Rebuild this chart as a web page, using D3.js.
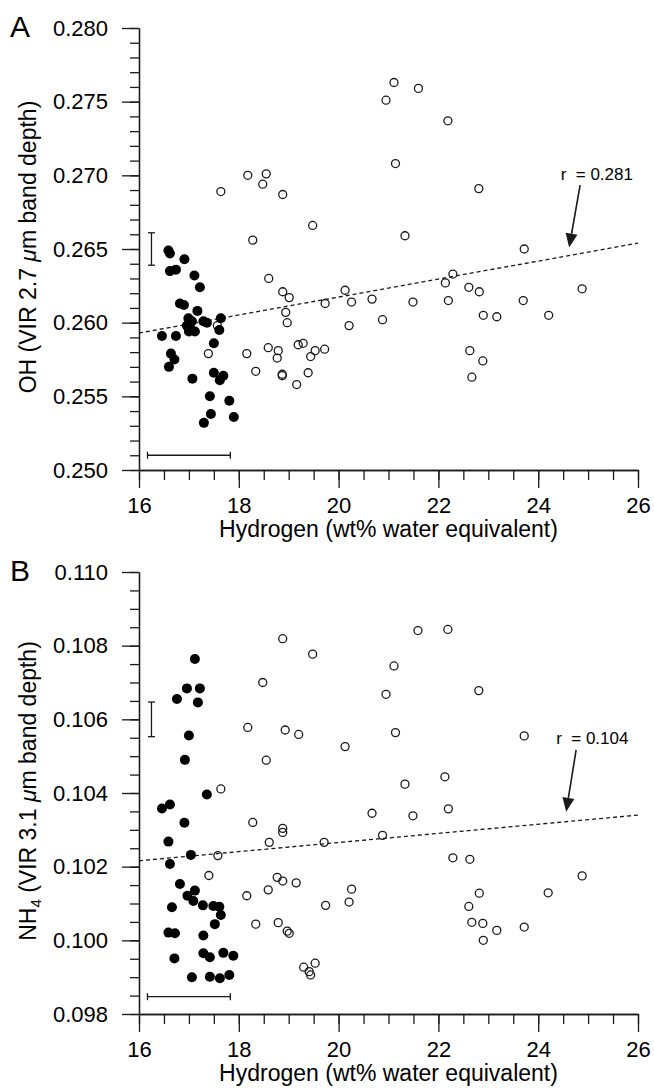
<!DOCTYPE html>
<html>
<head>
<meta charset="utf-8">
<script src="https://cdn.jsdelivr.net/npm/d3@7"></script>
<style>
  body { margin: 0; background: #fff; }
  svg { display: block; font-family: "Liberation Sans", Arial, Helvetica, sans-serif; }
</style>
</head>
<body>
<svg id="chart" width="654" height="1088"></svg>
<script>
// tick labels
const hydrogenTicks = [16, 18, 20, 22, 24, 26];
const ohTicks = [0.250, 0.255, 0.260, 0.265, 0.270, 0.275, 0.280];
const nh4Ticks = [0.098, 0.100, 0.102, 0.104, 0.106, 0.108, 0.110];

// panel A: hydrogen vs OH band depth  [hydrogen, band depth]
const ohFilled = [
  [16.59, 0.2649], [16.62, 0.2647], [16.91, 0.2643], [16.62, 0.2635], [16.74, 0.2636],
  [17.11, 0.2632], [17.22, 0.2624], [16.82, 0.2613], [16.90, 0.2612], [17.17, 0.2608],
  [16.99, 0.2603], [17.06, 0.2601], [16.96, 0.2598], [17.02, 0.2597], [17.00, 0.2594],
  [17.12, 0.2594], [17.29, 0.2601], [17.36, 0.2600], [17.64, 0.2603], [17.61, 0.2595],
  [17.50, 0.2586], [16.46, 0.2591], [16.74, 0.2591], [16.64, 0.2579], [16.71, 0.2575],
  [16.60, 0.2570], [17.07, 0.2562], [17.50, 0.2566], [17.69, 0.2564], [17.62, 0.2561],
  [17.42, 0.2550], [17.81, 0.2547], [17.44, 0.2538], [17.30, 0.2532], [17.90, 0.2536]
];
const ohOpen = [
  [17.64, 0.2689], [18.18, 0.2700], [18.55, 0.2701], [18.48, 0.2694], [18.88, 0.2687],
  [19.48, 0.2666], [18.28, 0.2656], [18.60, 0.2630], [18.88, 0.2621], [19.01, 0.2617],
  [18.94, 0.2607], [18.97, 0.2600], [19.73, 0.2613], [20.13, 0.2622], [20.26, 0.2614],
  [20.67, 0.2616], [20.21, 0.2598], [20.88, 0.2602], [18.16, 0.2579], [18.59, 0.2583],
  [18.79, 0.2581], [18.77, 0.2576], [19.19, 0.2585], [19.29, 0.2586], [19.53, 0.2581],
  [19.72, 0.2582], [19.44, 0.2577], [18.34, 0.2567], [18.87, 0.2565], [18.87, 0.2564],
  [19.39, 0.2566], [19.16, 0.2558], [21.14, 0.2708], [21.33, 0.2659], [21.11, 0.2763],
  [21.60, 0.2759], [20.95, 0.2751], [22.19, 0.2737], [22.81, 0.2691], [23.72, 0.2650],
  [22.29, 0.2633], [22.14, 0.2627], [22.61, 0.2624], [22.82, 0.2621], [24.88, 0.2623],
  [21.49, 0.2614], [22.20, 0.2615], [23.70, 0.2615], [22.90, 0.2605], [23.17, 0.2604],
  [24.21, 0.2605], [22.63, 0.2581], [22.89, 0.2574], [22.67, 0.2563], [17.39, 0.2579],
  [17.57, 0.2598]
];
const ohFit = [[16, 0.2593], [26, 0.2654]];
// [x, y, xerr, yerr]
const ohErrors = [[16.25, 0.2650, 0, 0.0011], [17.0, 0.2510, 0.83, 0]];

// panel B: hydrogen vs NH4 band depth
const nh4Filled = [
  [17.12, 0.10764], [16.96, 0.10684], [17.22, 0.10684], [16.76, 0.10655], [17.18, 0.10646],
  [17.00, 0.10556], [16.92, 0.10490], [17.36, 0.10396], [16.46, 0.10358], [16.62, 0.10369],
  [16.91, 0.10319], [16.59, 0.10268], [17.04, 0.10232], [16.62, 0.10207], [16.82, 0.10153],
  [17.12, 0.10135], [16.97, 0.10121], [17.09, 0.10107], [16.66, 0.10090], [17.28, 0.10095],
  [17.49, 0.10093], [17.61, 0.10091], [17.64, 0.10069], [17.52, 0.10044], [16.59, 0.10021],
  [16.72, 0.10019], [17.29, 0.10013], [16.71, 0.09951], [17.29, 0.09965], [17.42, 0.09954],
  [17.69, 0.09966], [17.89, 0.09958], [17.06, 0.09900], [17.42, 0.09901], [17.62, 0.09897],
  [17.81, 0.09906]
];
const nh4Open = [
  [18.88, 0.10819], [19.48, 0.10777], [18.48, 0.10700], [18.18, 0.10578], [18.93, 0.10571],
  [19.20, 0.10559], [18.55, 0.10489], [17.64, 0.10411], [18.28, 0.10320], [17.58, 0.10230],
  [17.40, 0.10176], [18.16, 0.10121], [18.34, 0.10044], [18.88, 0.10304], [18.88, 0.10293],
  [18.61, 0.10266], [19.71, 0.10266], [18.77, 0.10171], [18.88, 0.10161], [19.15, 0.10156],
  [18.59, 0.10137], [19.74, 0.10095], [18.79, 0.10048], [18.97, 0.10025], [19.01, 0.10019],
  [19.30, 0.09927], [19.41, 0.09915], [19.44, 0.09906], [19.53, 0.09938], [21.59, 0.10841],
  [22.19, 0.10844], [21.11, 0.10745], [20.95, 0.10668], [22.81, 0.10678], [21.14, 0.10564],
  [23.72, 0.10555], [20.13, 0.10526], [22.13, 0.10444], [21.33, 0.10424], [22.20, 0.10357],
  [20.67, 0.10345], [21.49, 0.10338], [20.88, 0.10285], [22.29, 0.10224], [22.63, 0.10220],
  [24.88, 0.10175], [24.20, 0.10129], [22.82, 0.10128], [20.26, 0.10139], [20.21, 0.10104],
  [22.61, 0.10092], [22.67, 0.10049], [22.89, 0.10046], [23.17, 0.10027], [23.72, 0.10036],
  [22.90, 0.10000]
];
const nh4Fit = [[16, 0.10216], [26, 0.10340]];
const nh4Errors = [[16.25, 0.1060, 0, 0.00047], [17.0, 0.09847, 0.83, 0]];

const svg = d3.select('#chart');
const ink = '#1a1a1a';

function arrow(g, xa, ya, xb, yb) {
  const ang = Math.atan2(yb - ya, xb - xa);
  const len = 14, half = 6;
  const bx = xb - len * Math.cos(ang), by = yb - len * Math.sin(ang);
  g.append('line')
    .attr('x1', xa).attr('y1', ya).attr('x2', bx).attr('y2', by)
    .attr('stroke', ink).attr('stroke-width', 1.6);
  g.append('path')
    .attr('d', `M${xb},${yb}L${bx + half * Math.sin(ang)},${by - half * Math.cos(ang)}L${bx - half * Math.sin(ang)},${by + half * Math.cos(ang)}Z`)
    .attr('fill', ink);
}

function styleAxis(sel) {
  sel.selectAll('path, line').attr('stroke', ink).attr('stroke-width', 1.3);
  sel.selectAll('text').attr('font-size', 22).attr('fill', '#000')
    .attr('font-family', '"Liberation Sans", Arial, Helvetica, sans-serif');
}

function drawPanel(p) {
  const g = svg.append('g');
  const x = d3.scaleLinear().domain([16, 26]).range([139, 638]);
  const y = d3.scaleLinear().domain([p.yTicks[0], p.yTicks[p.yTicks.length - 1]]).range([p.bottom, p.top]);

  // minor ticks
  g.append('g').attr('transform', `translate(0,${p.bottom})`)
    .call(d3.axisBottom(x).tickValues(d3.range(0, 21).map(i => 16 + i * 0.5))
      .tickSize(10).tickSizeOuter(0).tickFormat(''))
    .call(styleAxis);
  g.append('g').attr('transform', 'translate(139,0)')
    .call(d3.axisLeft(y).tickValues(d3.range(0, p.minorCount + 1).map(i => p.yTicks[0] + i * p.minorStep))
      .tickSize(9).tickSizeOuter(0).tickFormat(''))
    .call(styleAxis);

  // major ticks + labels
  g.append('g').attr('transform', `translate(0,${p.bottom})`)
    .call(d3.axisBottom(x).tickValues(hydrogenTicks).tickSize(18).tickSizeOuter(0).tickPadding(9))
    .call(styleAxis);
  g.append('g').attr('transform', 'translate(139,0)')
    .call(d3.axisLeft(y).tickValues(p.yTicks).tickSize(17).tickSizeOuter(0).tickPadding(14)
      .tickFormat(d3.format('.3f')))
    .call(styleAxis);

  // regression line
  g.append('path')
    .datum(p.fit)
    .attr('d', d3.line().x(d => x(d[0])).y(d => y(d[1])))
    .attr('fill', 'none').attr('stroke', ink).attr('stroke-width', 1.3)
    .attr('stroke-dasharray', '4,3');

  // error bars
  p.errors.forEach(e => {
    const cx = x(e[0]), cy = y(e[1]);
    const eb = g.append('g').attr('stroke', ink).attr('stroke-width', 1.3);
    if (e[3] > 0) {
      const y0 = y(e[1] - e[3]), y1 = y(e[1] + e[3]);
      eb.append('line').attr('x1', cx).attr('x2', cx).attr('y1', y0).attr('y2', y1);
      eb.append('line').attr('x1', cx - 3.5).attr('x2', cx + 3.5).attr('y1', y0).attr('y2', y0);
      eb.append('line').attr('x1', cx - 3.5).attr('x2', cx + 3.5).attr('y1', y1).attr('y2', y1);
    } else {
      const x0 = x(e[0] - e[2]), x1 = x(e[0] + e[2]);
      eb.append('line').attr('x1', x0).attr('x2', x1).attr('y1', cy).attr('y2', cy);
      eb.append('line').attr('x1', x0).attr('x2', x0).attr('y1', cy - 3.5).attr('y2', cy + 3.5);
      eb.append('line').attr('x1', x1).attr('x2', x1).attr('y1', cy - 3.5).attr('y2', cy + 3.5);
    }
  });

  // points
  g.append('g').selectAll('circle').data(p.open).join('circle')
    .attr('cx', d => x(d[0])).attr('cy', d => y(d[1])).attr('r', 4)
    .attr('fill', 'none').attr('stroke', ink).attr('stroke-width', 1.3);
  g.append('g').selectAll('circle').data(p.filled).join('circle')
    .attr('cx', d => x(d[0])).attr('cy', d => y(d[1])).attr('r', 5)
    .attr('fill', '#000');

  // r annotation
  g.append('text')
    .attr('x', x(p.label[0])).attr('y', y(p.label[1]))
    .attr('font-size', 17).attr('xml:space', 'preserve').style('white-space', 'pre')
    .text(p.rText);
  arrow(g, x(p.arrow[0]), y(p.arrow[1]), x(p.arrow[2]), y(p.arrow[3]));

  // axis titles
  g.append('text')
    .attr('x', 388.5).attr('y', p.bottom + 67)
    .attr('text-anchor', 'middle').attr('font-size', 23)
    .text('Hydrogen (wt% water equivalent)');
  const yt = g.append('text')
    .attr('transform', `translate(36,${(p.top + p.bottom) / 2 - 2}) rotate(-90)`)
    .attr('text-anchor', 'middle').attr('font-size', 23);
  p.yTitle(yt);

  // panel letter
  g.append('text').attr('x', 10).attr('y', p.top + 9).attr('font-size', 30).text(p.letter);
}

drawPanel({
  letter: 'A', top: 28, bottom: 470,
  yTicks: ohTicks, minorStep: 0.001, minorCount: 30,
  filled: ohFilled, open: ohOpen, fit: ohFit, errors: ohErrors,
  rText: 'r  = 0.281', label: [24.45, 0.26968],
  arrow: [24.84, 0.26934, 24.62, 0.26510],
  yTitle: t => {
    t.append('tspan').text('OH (VIR 2.7 ');
    t.append('tspan').attr('font-style', 'italic').text('\u03bc');
    t.append('tspan').text('m band depth)');
  }
});

drawPanel({
  letter: 'B', top: 572, bottom: 1014,
  yTicks: nh4Ticks, minorStep: 0.0005, minorCount: 24,
  filled: nh4Filled, open: nh4Open, fit: nh4Fit, errors: nh4Errors,
  rText: 'r  = 0.104', label: [24.36, 0.10533],
  arrow: [24.76, 0.10517, 24.56, 0.10349],
  yTitle: t => {
    t.append('tspan').text('NH');
    t.append('tspan').attr('font-size', 15).attr('dy', 5).text('4');
    t.append('tspan').attr('dy', -5).text(' (VIR 3.1 ');
    t.append('tspan').attr('font-style', 'italic').text('\u03bc');
    t.append('tspan').text('m band depth)');
  }
});
</script>
</body>
</html>
